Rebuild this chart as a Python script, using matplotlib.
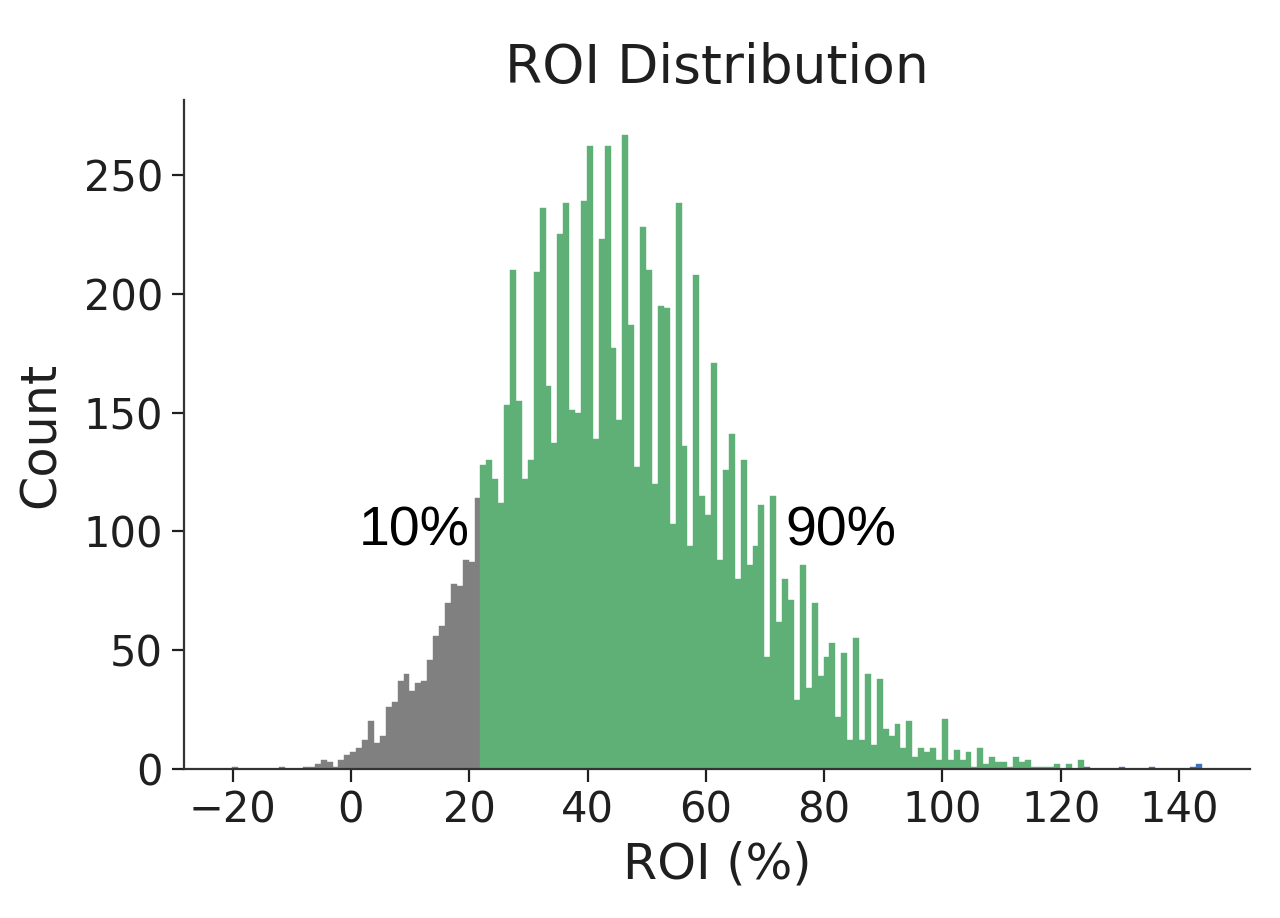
import numpy as np
import matplotlib
matplotlib.use("Agg")
import matplotlib.pyplot as plt

# ---- data (histogram counts, bin width 1) ----
bin_width = 1.0
gray_start = -20.1   # bins below the 10th percentile
gray_counts = [1, 0, 0, 0, 0, 0, 0, 0, 1, 0, 0, 0, 1, 1, 2, 4, 3, 1, 4, 6,
               7, 9, 12, 20, 11, 14, 26, 28, 37, 40, 33, 36, 37, 46, 56, 60,
               70, 78, 77, 88, 87, 114]
green_start = 21.9
green_counts = [128, 130, 122, 112, 153, 210, 155, 122, 130, 209, 236, 161,
                137, 225, 238, 151, 150, 239, 262, 139, 223, 262, 177, 147,
                267, 187, 127, 228, 210, 120, 195, 194, 103, 238, 136, 94,
                208, 115, 107, 171, 88, 126, 141, 80, 130, 86, 94, 111, 47,
                115, 62, 80, 71, 29, 86, 34, 70, 39, 47, 53, 22, 49, 12, 55,
                12, 40, 10, 38, 17, 14, 19, 9, 20, 5, 9, 7, 9, 4, 21, 4, 8,
                4, 7, 1, 9, 2, 5, 3, 3, 1, 5, 3, 4, 1, 1, 1, 1, 2, 0, 2, 0, 4]
blue_start = 123.9
blue_counts = [1, 0, 0, 0, 0, 0, 1, 0, 0, 0, 0, 1, 0, 0, 0, 0, 0, 0, 1, 2]

p10_x, p90_x = 21.9, 73.4
label_y = 100
x_ticks = [-20, 0, 20, 40, 60, 80, 100, 120, 140]
y_ticks = [0, 50, 100, 150, 200, 250]

title = "ROI Distribution"
x_label = "ROI (%)"
y_label = "Count"

# ---- style ----
dark = "#1f1f1f"
plt.rcParams["font.family"] = ["DejaVu Sans"]
plt.rcParams["text.color"] = dark
plt.rcParams["axes.labelcolor"] = dark
plt.rcParams["xtick.color"] = dark
plt.rcParams["ytick.color"] = dark

fig = plt.figure(figsize=(12.8, 9.18), dpi=100)
ax = fig.add_axes([0.1438, 0.1623, 0.9766 - 0.1438, 0.891 - 0.1623])


def draw(start, counts, color):
    lefts = start + bin_width * np.arange(len(counts))
    ax.bar(lefts, counts, width=bin_width, align="edge", color=color,
           edgecolor=color, linewidth=0.3)


draw(gray_start, gray_counts, "#808080")
draw(green_start, green_counts, "#5fb076")
draw(blue_start, blue_counts, "#3f73c0")

ax.text(p10_x - 1.8, label_y, "10%", ha="right", va="center",
        fontsize=40, family=["Liberation Sans", "DejaVu Sans"], color="black")
ax.text(p90_x, label_y, "90%", ha="left", va="center",
        fontsize=40, family=["Liberation Sans", "DejaVu Sans"], color="black")

ax.set_xlim(-28.2, 152.0)
ax.set_ylim(0, 281.5)
ax.set_xticks(x_ticks)
ax.set_yticks(y_ticks)
ax.tick_params(axis="both", labelsize=30, length=9, width=1.6, direction="out",
               pad=6)
for side in ("top", "right"):
    ax.spines[side].set_visible(False)
for side in ("left", "bottom"):
    ax.spines[side].set_linewidth(1.6)
    ax.spines[side].set_color("#333333")

ax.set_title(title, fontsize=38.5, pad=12)
ax.set_xlabel(x_label, fontsize=35.5, labelpad=6)
ax.set_ylabel(y_label, fontsize=35.5, labelpad=14)

fig.savefig("out.png", dpi=100, facecolor="white")
